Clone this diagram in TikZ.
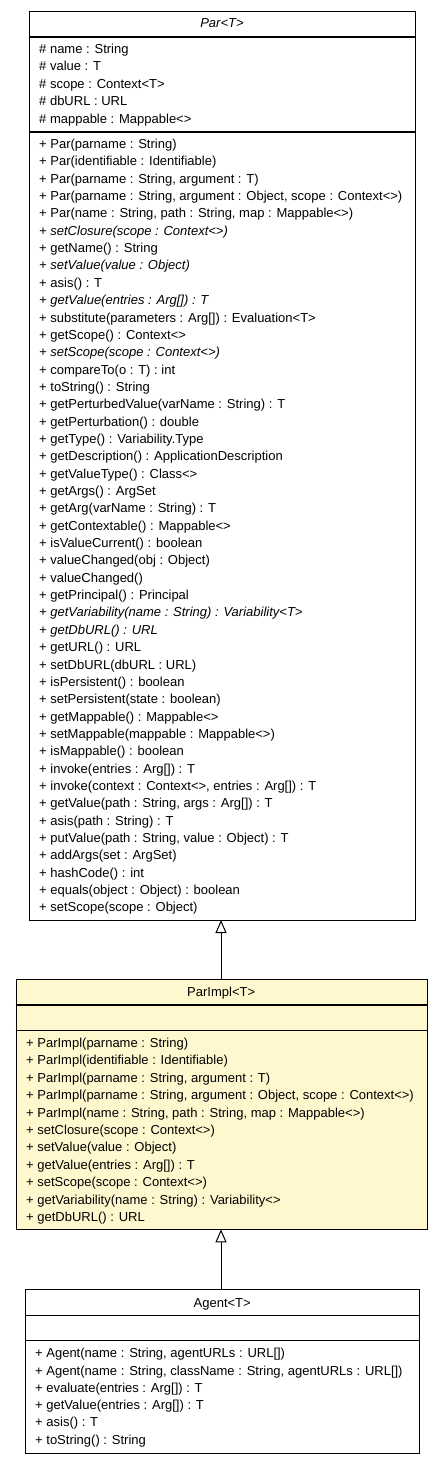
\documentclass[tikz,border=0pt]{standalone}
\usepackage{fontspec}
\setmainfont{Liberation Sans}
\usetikzlibrary{arrows.meta}
\definecolor{implfill}{RGB}{255,248,206}
\begin{document}
\begin{tikzpicture}[x=1pt,y=-1pt,
  umlbox/.style={draw=black,line width=1.1pt,anchor=north west,inner sep=0pt},
  sepline/.style={draw=black,line width=1.4pt},
  txt/.style={anchor=base west,inner sep=0pt,font=\fontsize{13}{16}\selectfont},
  ttl/.style={anchor=base,inner sep=0pt,font=\fontsize{13}{16}\selectfont},
  inherit/.style={draw=black,line width=1pt,-{Triangle[open,length=13pt,width=11pt]}}]
\path[use as bounding box,fill=white] (0,0) rectangle (443,1464);

% ---------- Par<T> ----------
\node[umlbox,fill=white,minimum width=386pt,minimum height=909pt] (par) at (29,11) {};
\draw[sepline] (29,37) -- (415,37);
\draw[sepline] (29,132) -- (415,132);
\node[ttl] (partitle) at (222,27.7) {\itshape Par<T>};
\foreach \t [count=\i] in {
  {\# name : String},
  {\# value : T},
  {\# scope : Context<T>},
  {\# dbURL : URL},
  {\# mappable : Mappable<>}}
  \node[txt] (pa\i) at (39,{53.3+17.5*(\i-1)}) {\t};
\foreach \t [count=\i] in {
  {+ Par(parname : String)},
  {+ Par(identifiable : Identifiable)},
  {+ Par(parname : String, argument : T)},
  {+ Par(parname : String, argument : Object, scope : Context<>)},
  {+ Par(name : String, path : String, map : Mappable<>)},
  {\itshape + setClosure(scope : Context<>)},
  {+ getName() : String},
  {\itshape + setValue(value : Object)},
  {+ asis() : T},
  {\itshape + getValue(entries : Arg[]) : T},
  {+ substitute(parameters : Arg[]) : Evaluation<T>},
  {+ getScope() : Context<>},
  {\itshape + setScope(scope : Context<>)},
  {+ compareTo(o : T) : int},
  {+ toString() : String},
  {+ getPerturbedValue(varName : String) : T},
  {+ getPerturbation() : double},
  {+ getType() : Variability.Type},
  {+ getDescription() : ApplicationDescription},
  {+ getValueType() : Class<>},
  {+ getArgs() : ArgSet},
  {+ getArg(varName : String) : T},
  {+ getContextable() : Mappable<>},
  {+ isValueCurrent() : boolean},
  {+ valueChanged(obj : Object)},
  {+ valueChanged()},
  {+ getPrincipal() : Principal},
  {\itshape + getVariability(name : String) : Variability<T>},
  {\itshape + getDbURL() : URL},
  {+ getURL() : URL},
  {+ setDbURL(dbURL : URL)},
  {+ isPersistent() : boolean},
  {+ setPersistent(state : boolean)},
  {+ getMappable() : Mappable<>},
  {+ setMappable(mappable : Mappable<>)},
  {+ isMappable() : boolean},
  {+ invoke(entries : Arg[]) : T},
  {+ invoke(context : Context<>, entries : Arg[]) : T},
  {+ getValue(path : String, args : Arg[]) : T},
  {+ asis(path : String) : T},
  {+ putValue(path : String, value : Object) : T},
  {+ addArgs(set : ArgSet)},
  {+ hashCode() : int},
  {+ equals(object : Object) : boolean},
  {+ setScope(scope : Object)}}
  \node[txt] (pm\i) at (39,{148.5+17.35*(\i-1)}) {\t};

% ---------- ParImpl<T> ----------
\node[umlbox,fill=implfill,minimum width=411pt,minimum height=250.6pt] (parimpl) at (15.7,978.7) {};
\draw[sepline] (15.7,1005) -- (426.7,1005);
\draw[sepline] (15.7,1030.7) -- (426.7,1030.7);
\node[ttl] (parimpltitle) at (221.2,996.7) {ParImpl<T>};
\foreach \t [count=\i] in {
  {+ ParImpl(parname : String)},
  {+ ParImpl(identifiable : Identifiable)},
  {+ ParImpl(parname : String, argument : T)},
  {+ ParImpl(parname : String, argument : Object, scope : Context<>)},
  {+ ParImpl(name : String, path : String, map : Mappable<>)},
  {+ setClosure(scope : Context<>)},
  {+ setValue(value : Object)},
  {+ getValue(entries : Arg[]) : T},
  {+ setScope(scope : Context<>)},
  {+ getVariability(name : String) : Variability<>},
  {+ getDbURL() : URL}}
  \node[txt] (im\i) at (26,{1047.3+17.43*(\i-1)}) {\t};

% ---------- Agent<T> ----------
\node[umlbox,fill=white,minimum width=393.7pt,minimum height=164pt] (agent) at (25.3,1289.3) {};
\draw[sepline] (25.3,1315.3) -- (419,1315.3);
\draw[sepline] (25.3,1340.7) -- (419,1340.7);
\node[ttl] (agenttitle) at (222.2,1307.7) {Agent<T>};
\foreach \t [count=\i] in {
  {+ Agent(name : String, agentURLs : URL[])},
  {+ Agent(name : String, className : String, agentURLs : URL[])},
  {+ evaluate(entries : Arg[]) : T},
  {+ getValue(entries : Arg[]) : T},
  {+ asis() : T},
  {+ toString() : String}}
  \node[txt] (am\i) at (35,{1357.7+17.3*(\i-1)}) {\t};

% ---------- generalisations ----------
\coordinate (a1s) at (221,978.7);
\coordinate (a1e) at (221,920);
\coordinate (a2s) at (221,1289.3);
\coordinate (a2e) at (221,1229.3);
\draw[inherit] (a1s) -- (a1e);
\draw[inherit] (a2s) -- (a2e);
\end{tikzpicture}
\end{document}
